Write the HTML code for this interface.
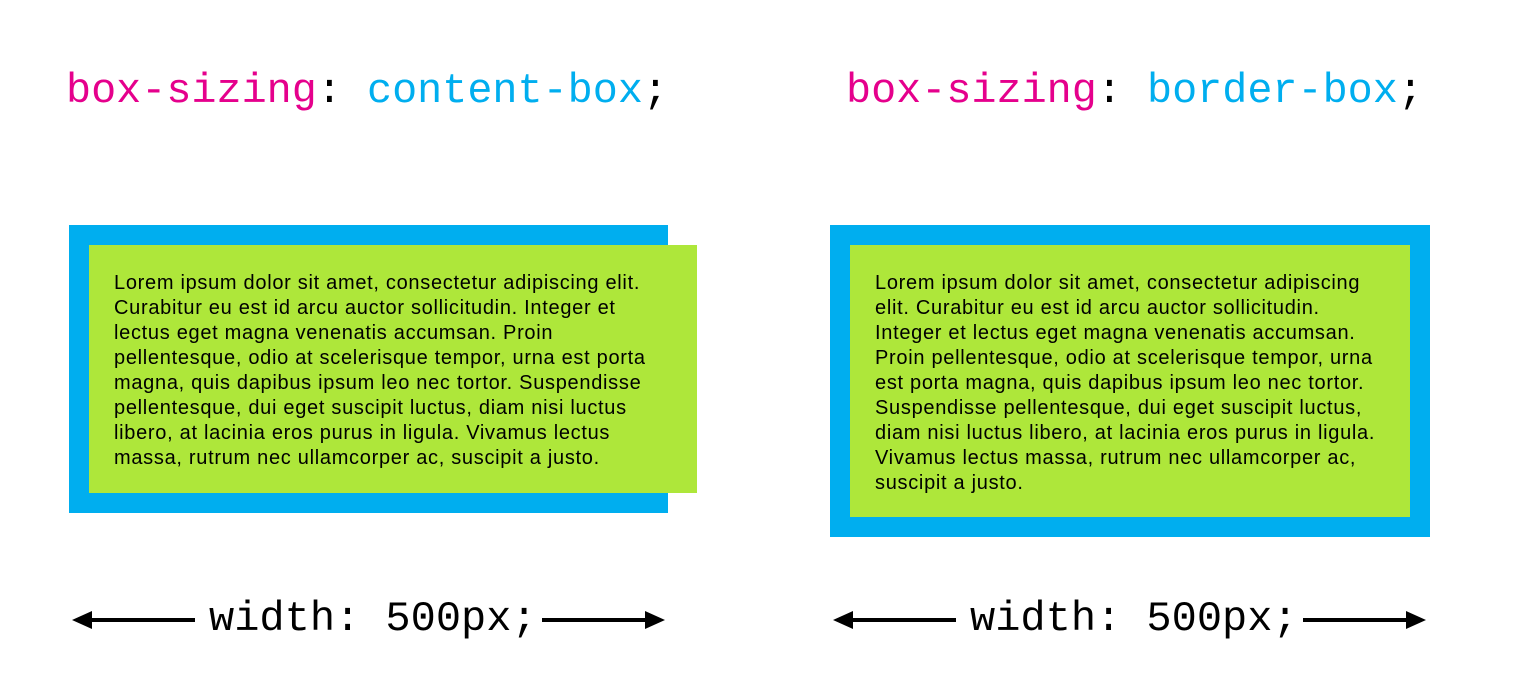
<!DOCTYPE html>
<html><head><style>
body{margin:0;width:1535px;height:700px;background:#fff;position:relative;overflow:hidden}
.h{position:absolute;top:66px;font-family:"Liberation Mono",monospace;font-size:41.8px;white-space:pre;line-height:50px}
.p{color:#e5008c}.b{color:#00aeef}
.box{position:absolute;background:#00aeef}
.g{position:absolute;background:#aee73a;box-sizing:border-box;padding:26px 25px 0;font-family:"Liberation Sans",Arial,sans-serif;font-size:20px;letter-spacing:0.7px;line-height:25px;color:#000;white-space:nowrap}
.w{position:absolute;top:594px;font-family:"Liberation Mono",monospace;font-size:42px;line-height:50px;white-space:pre}
</style></head><body>
<div class="h" style="left:66px"><span class="p">box-sizing</span>: <span class="b">content-box</span>;</div>
<div class="h" style="left:846px"><span class="p">box-sizing</span>: <span class="b">border-box</span>;</div>
<div class="box" style="left:69px;top:225px;width:599px;height:288px"></div>
<div class="g" style="left:89px;top:245px;width:608px;height:248px">Lorem ipsum dolor sit amet, consectetur adipiscing elit.<br>Curabitur eu est id arcu auctor sollicitudin. Integer et<br>lectus eget magna venenatis accumsan. Proin<br>pellentesque, odio at scelerisque tempor, urna est porta<br>magna, quis dapibus ipsum leo nec tortor. Suspendisse<br>pellentesque, dui eget suscipit luctus, diam nisi luctus<br>libero, at lacinia eros purus in ligula. Vivamus lectus<br>massa, rutrum nec ullamcorper ac, suscipit a justo.</div>
<div class="box" style="left:830px;top:225px;width:600px;height:312px"></div>
<div class="g" style="left:850px;top:245px;width:560px;height:272px">Lorem ipsum dolor sit amet, consectetur adipiscing<br>elit. Curabitur eu est id arcu auctor sollicitudin.<br>Integer et lectus eget magna venenatis accumsan.<br>Proin pellentesque, odio at scelerisque tempor, urna<br>est porta magna, quis dapibus ipsum leo nec tortor.<br>Suspendisse pellentesque, dui eget suscipit luctus,<br>diam nisi luctus libero, at lacinia eros purus in ligula.<br>Vivamus lectus massa, rutrum nec ullamcorper ac,<br>suscipit a justo.</div>
<div class="w" style="left:209px">width: 500px;</div>
<div class="w" style="left:970px">width: 500px;</div>
<svg width="1535" height="700" style="position:absolute;left:0;top:0">
<g fill="#000" stroke="#000" stroke-width="4">
<line x1="88" y1="620" x2="195" y2="620"/><polygon stroke="none" points="72,620 92,611 92,629"/>
<line x1="542" y1="620" x2="648" y2="620"/><polygon stroke="none" points="665,620 645,611 645,629"/>
<line x1="849" y1="620" x2="956" y2="620"/><polygon stroke="none" points="833,620 853,611 853,629"/>
<line x1="1303" y1="620" x2="1409" y2="620"/><polygon stroke="none" points="1426,620 1406,611 1406,629"/>
</g></svg>
</body></html>
